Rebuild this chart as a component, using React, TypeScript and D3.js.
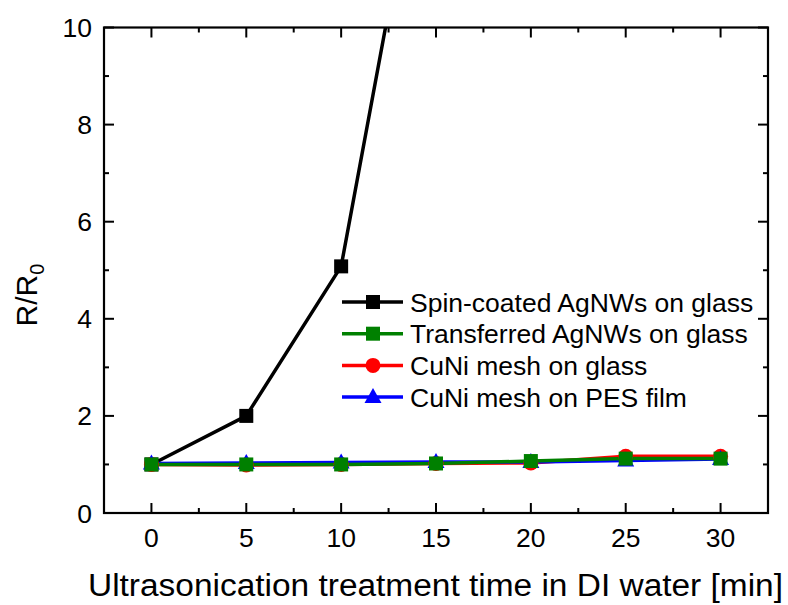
import React, { useEffect, useRef } from 'react';
import * as d3 from 'd3';

const times = [0, 5, 10, 15, 20, 25, 30];
const spinCoated = [1.0, 2.0, 5.08, 15.6];
const transferred = [1.0, 1.0, 1.0, 1.02, 1.07, 1.12, 1.12];
const cuniGlass = [1.0, 0.99, 1.0, 1.02, 1.03, 1.17, 1.17];
const cuniPes = [1.02, 1.03, 1.04, 1.05, 1.05, 1.08, 1.11];

const xTicks = [0, 5, 10, 15, 20, 25, 30];
const yTicks = [0, 2, 4, 6, 8, 10];

const seriesList = [
  { name: 'Spin-coated AgNWs on glass', color: '#000000', marker: 'square', values: spinCoated },
  { name: 'Transferred AgNWs on glass', color: '#008000', marker: 'square', values: transferred },
  { name: 'CuNi mesh on glass', color: '#ff0000', marker: 'circle', values: cuniGlass },
  { name: 'CuNi mesh on PES film', color: '#0000ff', marker: 'triangle', values: cuniPes },
];
// draw order: black, red, blue, green on top
const drawOrder = [0, 2, 3, 1];

const FONT = '"Liberation Sans", Arial, sans-serif';

export default function App() {
  const ref = useRef<SVGSVGElement>(null);

  useEffect(() => {
    const svg = d3.select(ref.current);
    svg.selectAll('*').remove();

    const left = 104, right = 768, top = 27.5, bottom = 513;
    const x = d3.scaleLinear().domain([-2.5, 32.5]).range([left, right]);
    const y = d3.scaleLinear().domain([0, 10]).range([bottom, top]);

    svg.append('defs').append('clipPath').attr('id', 'plotclip')
      .append('rect').attr('x', left).attr('y', top).attr('width', right - left).attr('height', bottom - top);

    // ticks (inward, all four sides)
    const tk = svg.append('g').attr('stroke', '#000').attr('stroke-width', 2);
    const xMinor = d3.range(-2.5, 33, 2.5).filter((v) => v % 5 !== 0);
    const yMinor = d3.range(1, 10, 2);
    xTicks.forEach((v) => {
      tk.append('line').attr('x1', x(v)).attr('x2', x(v)).attr('y1', bottom).attr('y2', bottom - 10);
      tk.append('line').attr('x1', x(v)).attr('x2', x(v)).attr('y1', top).attr('y2', top + 10);
    });
    xMinor.forEach((v) => {
      if (x(v) <= left + 1 || x(v) >= right - 1) return;
      tk.append('line').attr('x1', x(v)).attr('x2', x(v)).attr('y1', bottom).attr('y2', bottom - 5);
      tk.append('line').attr('x1', x(v)).attr('x2', x(v)).attr('y1', top).attr('y2', top + 5);
    });
    yTicks.forEach((v) => {
      tk.append('line').attr('y1', y(v)).attr('y2', y(v)).attr('x1', left).attr('x2', left + 10);
      tk.append('line').attr('y1', y(v)).attr('y2', y(v)).attr('x1', right).attr('x2', right - 10);
    });
    yMinor.forEach((v) => {
      tk.append('line').attr('y1', y(v)).attr('y2', y(v)).attr('x1', left).attr('x2', left + 5);
      tk.append('line').attr('y1', y(v)).attr('y2', y(v)).attr('x1', right).attr('x2', right - 5);
    });

    svg.append('rect').attr('x', left).attr('y', top).attr('width', right - left).attr('height', bottom - top)
      .attr('fill', 'none').attr('stroke', '#000').attr('stroke-width', 2.2);

    // tick labels
    const lab = svg.append('g').attr('font-family', FONT).attr('font-size', 26.5).attr('fill', '#000');
    xTicks.forEach((v) => {
      lab.append('text').attr('x', x(v)).attr('y', 547).attr('text-anchor', 'middle').text(v);
    });
    yTicks.forEach((v) => {
      lab.append('text').attr('x', 92).attr('y', y(v)).attr('dy', '0.36em').attr('text-anchor', 'end').text(v);
    });

    // axis titles
    svg.append('text').attr('x', 88).attr('y', 596)
      .attr('textLength', 695).attr('lengthAdjust', 'spacingAndGlyphs')
      .attr('font-family', FONT).attr('font-size', 31).text('Ultrasonication treatment time in DI water [min]');
    const yt = svg.append('text').attr('transform', 'translate(37,295) rotate(-90)').attr('text-anchor', 'middle')
      .attr('font-family', FONT).attr('font-size', 30);
    yt.append('tspan').text('R/R');
    yt.append('tspan').attr('font-size', 20).attr('dy', 7).text('0');

    const drawMarker = (g: any, kind: string, cx: number, cy: number, color: string) => {
      if (kind === 'square') {
        g.append('rect').attr('x', cx - 7).attr('y', cy - 7).attr('width', 14).attr('height', 14).attr('fill', color);
      } else if (kind === 'circle') {
        g.append('circle').attr('cx', cx).attr('cy', cy).attr('r', 7.5).attr('fill', color);
      } else {
        g.append('path').attr('d', `M${cx},${cy - 9}L${cx + 8.5},${cy + 6}L${cx - 8.5},${cy + 6}Z`).attr('fill', color);
      }
    };

    const plot = svg.append('g').attr('clip-path', 'url(#plotclip)');
    const line = d3.line<number>().x((d, i) => x(times[i])).y((d) => y(d));
    drawOrder.forEach((si) => {
      const s = seriesList[si];
      plot.append('path').attr('d', line(s.values)).attr('fill', 'none').attr('stroke', s.color)
        .attr('stroke-width', 3.5).attr('stroke-linejoin', 'round');
    });
    drawOrder.forEach((si) => {
      const s = seriesList[si];
      s.values.forEach((v, i) => {
        if (v > 10) return;
        drawMarker(plot, s.marker, x(times[i]), y(v), s.color);
      });
    });

    // legend
    const lg = svg.append('g');
    seriesList.forEach((s, i) => {
      const cy = 302 + i * 31.7;
      lg.append('line').attr('x1', 342).attr('x2', 403).attr('y1', cy).attr('y2', cy)
        .attr('stroke', s.color).attr('stroke-width', 3.5);
      drawMarker(lg, s.marker, 373, cy, s.color);
      lg.append('text').attr('x', 410).attr('y', cy).attr('dy', '0.36em')
        .attr('font-family', FONT).attr('font-size', 26.5).text(s.name);
    });
  }, []);

  return (
    <svg ref={ref} width={788} height={605} style={{ position: 'absolute', left: 0, top: 0, background: '#fff' }} />
  );
}
